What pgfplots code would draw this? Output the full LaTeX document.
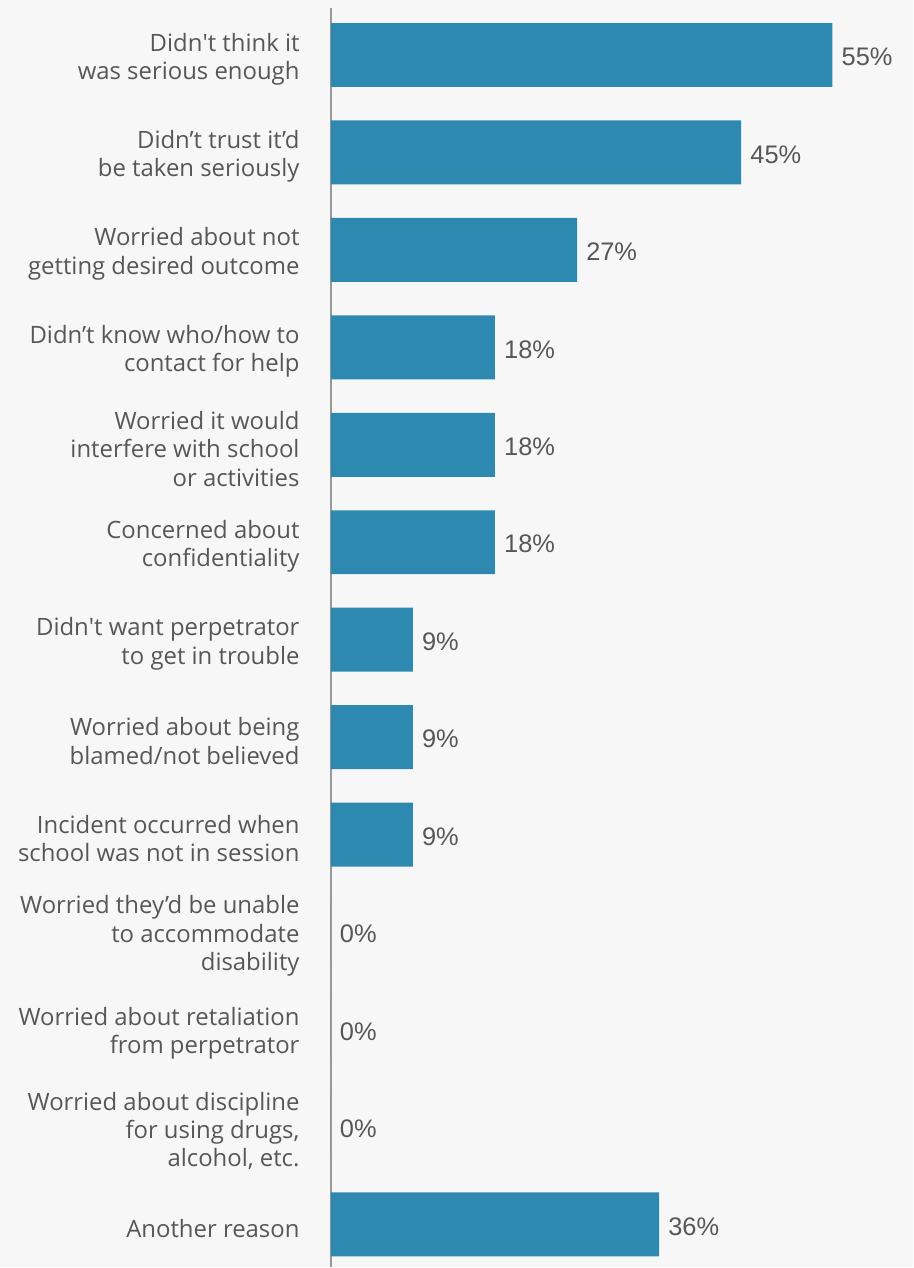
\documentclass[border=0pt]{standalone}
\usepackage{pgfplots}
\pgfplotsset{compat=1.18}
\usepackage{fontspec}
\newfontfamily\labelfont{Open Sans}
\newfontfamily\valuefont{Liberation Sans}
\definecolor{bg}{HTML}{F7F7F7}
\definecolor{barblue}{HTML}{2E89B0}
\definecolor{txt}{HTML}{575757}
\definecolor{axisgray}{HTML}{999999}
\begin{document}
\begin{tikzpicture}
\fill[bg] (0,0) rectangle (914bp,-1268bp);
\begin{axis}[
  at={(331bp,-1268bp)}, anchor=south west,
  scale only axis, width=575bp, height=1260bp,
  xbar, xmin=0, xmax=63,
  ymin=-0.482, ymax=12.44, y dir=reverse,
  bar width=0.656,
  axis x line=none, axis y line=left,
  axis line style={-, draw=axisgray, line width=1.6bp},
  ytick={0,...,12}, ytick style={draw=none},
  yticklabels={
    {Didn\textquotesingle t think it\\was serious enough},
    {Didn’t trust it’d\\be taken seriously},
    {Worried about not\\getting desired outcome},
    {Didn’t know who/how to\\contact for help},
    {Worried it would\\interfere with school\\or activities},
    {Concerned about\\confidentiality},
    {Didn\textquotesingle t want perpetrator\\to get in trouble},
    {Worried about being\\blamed/not believed},
    {Incident occurred when\\school was not in session},
    {Worried they’d be unable\\to accommodate\\disability},
    {Worried about retaliation\\from perpetrator},
    {Worried about discipline\\for using drugs,\\alcohol, etc.},
    {Another reason}},
  yticklabel style={align=right, inner sep=0pt, xshift=-29bp, yshift=-4bp,
    text=txt, font=\labelfont\fontsize{24}{28.5}\selectfont},
  /pgf/number format/assume math mode=true,
  nodes near coords={\pgfmathprintnumber{\pgfplotspointmeta}\%},
  nodes near coords style={anchor=west, inner sep=0pt, xshift=9bp, yshift=-2bp,
    text=txt, font=\valuefont\fontsize{25.5}{30}\selectfont},
  point meta=x,
]
\addplot[fill=barblue, draw=none] coordinates {
  (55,0) (45,1) (27,2) (18,3) (18,4) (18,5) (9,6) (9,7) (9,8)
  (0,9) (0,10) (0,11) (36,12)};
\end{axis}
\end{tikzpicture}
\end{document}
